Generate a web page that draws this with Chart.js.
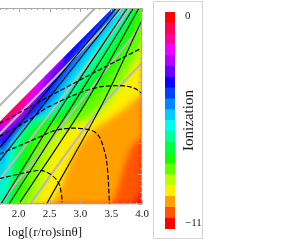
<!DOCTYPE html>
<html>
<head>
<meta charset="utf-8">
<script src="https://cdn.jsdelivr.net/npm/chart.js@4.4.0/dist/chart.umd.min.js"></script>
<style>
  html,body{margin:0;padding:0;background:#fff;width:299px;height:241px;overflow:hidden;position:relative}
  #main{position:absolute;left:-70px;top:0;width:222px;height:241px}
  #cbox{position:absolute;left:153px;top:1px;width:48px;height:236px;border:1px solid #d4d4d4}
</style>
</head>
<body>
<div id="main"><canvas id="c1"></canvas></div>
<div id="cbox"><canvas id="c2"></canvas></div>
<script>
// axes
const X_MIN = 0.85, X_MAX = 4.0, Y_MIN = 0.5, Y_MAX = 3.71;
const X_TICKS = [1.0, 1.5, 2.0, 2.5, 3.0, 3.5, 4.0];
const X_TITLE = 'log[(r/ro)sinθ]';
const CB_TITLE = 'Ionization';
const CB_TICK_LABELS = ['0', '\u221211'];
const CB_TICK_POS = [-0.2, -10.7];

// colour levels (ionization) and band colours, bottom (-11) to top (0)
const LEVELS = [-11, -10.45, -9.9, -9.35, -8.8, -8.25, -7.7, -7.15, -6.6, -6.05, -5.5,
                -4.95, -4.4, -3.85, -3.3, -2.75, -2.2, -1.65, -1.1, -0.55, 0];
const BAND_COLORS = ['#ff0000','#ff5500','#ffa000','#ffee00','#bbff00','#66ff00','#11ff00',
                     '#00ff44','#00ff99','#00ffe6','#00ccff','#0088ff','#0040ff','#1400ff',
                     '#6a00ff','#b400ff','#ee00ff','#ff0099','#ff0055','#ff0000'];

// isolines: ISOLINES[i-1] is where the field crosses LEVELS[i]
const ISOLINES = [
  [[1.69,0.50],[3.84,0.50],[4.00,0.69]],
  [[1.69,0.50],[3.47,0.50],[3.82,1.42],[4.00,1.58]],
  [[1.69,0.50],[2.50,0.50],[2.95,1.42],[3.71,2.06],[4.00,2.31]],
  [[1.69,0.50],[2.26,0.50],[2.58,1.42],[3.42,2.06],[4.00,2.95]],
  [[1.69,0.50],[2.10,0.50],[2.42,1.42],[3.26,2.06],[3.84,2.87],[4.00,3.19]],
  [[1.69,0.50],[1.94,0.50],[2.23,1.42],[2.98,2.06],[3.63,2.87],[3.95,3.52],[4.00,3.71]],
  [[1.69,0.50],[1.86,0.50],[2.10,1.42],[2.82,2.06],[3.47,2.87],[3.82,3.52],[3.92,3.71]],
  [[1.69,0.50],[1.77,0.50],[1.98,1.42],[2.66,2.06],[3.31,2.87],[3.74,3.52],[3.84,3.71]],
  [[1.69,0.50],[1.73,0.50],[1.90,1.42],[2.58,2.06],[3.19,2.87],[3.66,3.52],[3.76,3.71]],
  [[1.69,0.53],[1.84,1.42],[2.50,2.06],[3.10,2.87],[3.56,3.52],[3.68,3.71]],
  [[1.69,0.94],[1.77,1.42],[2.40,2.06],[2.98,2.87],[3.48,3.52],[3.61,3.71]],
  [[1.69,1.18],[1.73,1.42],[2.34,2.06],[2.89,2.87],[3.42,3.52],[3.56,3.71]],
  [[1.69,1.39],[2.26,2.06],[2.82,2.87],[3.36,3.52],[3.53,3.71]],
  [[1.69,1.50],[2.19,2.06],[2.76,2.87]],
  [[1.69,1.61],[2.15,2.06],[2.73,2.87]],
  [[1.69,1.69],[2.10,2.06],[2.42,2.52]],
  [[1.69,1.77],[2.03,2.06],[2.26,2.39]],
  [[1.69,1.82],[1.98,2.06],[2.10,2.26]]
];

// edge of the computed region (white above it)
const EDGE = [[1.69,1.85],[3.52,3.71]];

// contour lines
const BLACK_LINES = [
  [[1.69,1.42],[2.29,2.15],[3.58,3.71]],
  [[1.69,1.21],[2.42,2.15],[3.65,3.71]],
  [[1.71,0.50],[2.73,2.15],[3.76,3.71]],
  [[1.84,0.50],[2.89,2.15],[3.86,3.71]],
  [[2.00,0.50],[3.08,2.15],[3.95,3.71]],
  [[2.45,0.50],[3.36,2.15],[4.00,3.52]]
];
const GRAY_LINES = [
  [[1.69,2.11],[3.24,3.71]],
  [[1.69,1.65],[2.18,2.15],[3.69,3.71]],
  [[1.69,0.90],[2.63,2.15],[3.81,3.71]],
  [[1.69,0.50],[2.98,2.15],[4.00,3.44]],
  [[2.18,0.50],[3.31,2.06],[4.00,2.82]]
];
const DASHED_LINES = [
  [[1.69,1.82],[2.82,2.44],[4.00,3.06]],
  [[1.69,1.61],[2.10,1.84],[2.50,2.10],[3.19,2.39],[3.63,2.44],[3.87,2.40],[4.00,2.31]],
  [[1.69,1.32],[2.23,1.55],[2.61,1.71],[2.98,1.74],[3.26,1.66],[3.39,1.37],[3.44,1.06],[3.47,0.50]],
  [[1.69,0.92],[2.18,1.03],[2.37,1.05],[2.53,0.98],[2.65,0.84],[2.69,0.68],[2.71,0.50]]
];

const pts = a => a.map(([x,y]) => ({x, y}));
const SERIF = 'Liberation Serif';
const NONE = 'rgba(0,0,0,0)';
const INK = '#1a1a1a';

const datasets = [];
// contour lines on top
BLACK_LINES.forEach(l => datasets.push({data:pts(l), borderColor:'#000', borderWidth:1.1, tension:0.3, order:0}));
DASHED_LINES.forEach(l => datasets.push({data:pts(l), borderColor:'#000', borderWidth:1.2, borderDash:[4,3], tension:0.35, order:0}));
GRAY_LINES.forEach(l => datasets.push({data:pts(l), borderColor:'#b8b8b8', borderWidth:2.2, tension:0.3, order:0}));
// white outside the computed region
datasets.push({data:pts(EDGE), borderColor:NONE, backgroundColor:'#fff', fill:'end', order:1});
// colour bands, painted from the lowest level up
ISOLINES.forEach((l,i) => datasets.push({
  data:pts(l), borderColor:NONE, backgroundColor:BAND_COLORS[i+1],
  fill:'end', cubicInterpolationMode:'monotone', order:100-i,
  role: i === ISOLINES.length-1 ? 'top' : 'band'
}));
datasets.push({data:pts([[X_MIN,Y_MIN],[X_MAX,Y_MIN]]), borderColor:NONE,
  backgroundColor:BAND_COLORS[0], fill:'end', order:200, role:'base'});

// the field in the picture is smoothly shaded: soften the band edges
const soften = {
  id:'soften',
  afterDatasetDraw(chart, args){
    const role = chart.data.datasets[args.index].role;
    if (role === 'base') chart.ctx.filter = 'blur(3px)';
    if (role === 'top') chart.ctx.filter = 'none';
  }
};

const frame = {
  id:'frame',
  afterDatasetsDraw(chart){
    const {ctx, chartArea:a, scales:{x, y}} = chart;
    ctx.save();
    ctx.filter = 'none';
    ctx.strokeStyle = '#a8a8a8'; ctx.lineWidth = 1;
    ctx.strokeRect(a.left+0.5, a.top+0.5, a.right-a.left-1, a.bottom-a.top-1);
    ctx.beginPath();
    for (let v = Math.ceil(X_MIN*10); v <= X_MAX*10; v++){
      const px = Math.round(x.getPixelForValue(v/10)) + 0.5, len = v%5===0 ? 4 : 2;
      ctx.moveTo(px, a.top); ctx.lineTo(px, a.top+len);
      ctx.moveTo(px, a.bottom); ctx.lineTo(px, a.bottom-len);
    }
    for (let v = Math.ceil(Y_MIN*10); v <= Y_MAX*10; v++){
      const py = Math.round(y.getPixelForValue(v/10)) + 0.5, len = v%5===0 ? 4 : 2;
      ctx.moveTo(a.right, py); ctx.lineTo(a.right-len, py);
    }
    ctx.stroke();
    ctx.restore();
  }
};

new Chart(document.getElementById('c1'), {
  type:'line',
  data:{datasets},
  options:{
    responsive:true, maintainAspectRatio:false, animation:false, events:[],
    layout:{padding:{left:17.7, right:9, top:8, bottom:0}},
    elements:{point:{radius:0}, line:{borderCapStyle:'round', borderJoinStyle:'round'}},
    plugins:{legend:{display:false}, tooltip:{enabled:false}},
    scales:{
      x:{type:'linear', min:X_MIN, max:X_MAX,
         grid:{display:false, drawTicks:false}, border:{display:false},
         afterBuildTicks:s => { s.ticks = X_TICKS.map(v => ({value:v})); },
         ticks:{padding:3, maxRotation:0, autoSkip:false, color:INK,
                font:{family:SERIF, size:11}, callback:v => v.toFixed(1)},
         title:{display:true, text:X_TITLE, color:INK, font:{family:SERIF, size:13},
                padding:{top:1, bottom:1}}},
      y:{type:'linear', display:false, min:Y_MIN, max:Y_MAX}
    }
  },
  plugins:[soften, frame]
});

// colour bar
const cbTitle = {
  id:'cbTitle',
  afterDraw(chart){
    const {ctx, chartArea:a} = chart;
    ctx.save();
    ctx.translate(a.right+18, (a.top+a.bottom)/2);
    ctx.rotate(-Math.PI/2);
    ctx.font = '15px "' + SERIF + '"';
    ctx.fillStyle = INK; ctx.textAlign = 'center'; ctx.textBaseline = 'alphabetic';
    ctx.fillText(CB_TITLE, 0, 0);
    ctx.restore();
  }
};

new Chart(document.getElementById('c2'), {
  type:'bar',
  data:{labels:[''], datasets:BAND_COLORS.map((c,i) => ({
    data:[[LEVELS[i], LEVELS[i+1]]], backgroundColor:c, borderWidth:0,
    barPercentage:1, categoryPercentage:1, grouped:false
  }))},
  options:{
    responsive:true, maintainAspectRatio:false, animation:false, events:[],
    layout:{padding:{left:11, top:10, bottom:9, right:0}},
    plugins:{legend:{display:false}, tooltip:{enabled:false}},
    scales:{
      x:{display:false, stacked:true},
      y:{position:'right', min:-11, max:0, grid:{display:false}, border:{display:false},
         afterBuildTicks:s => { s.ticks = CB_TICK_POS.map(v => ({value:v})); },
         afterFit:s => { s.width = 27; },
         ticks:{padding:2, color:INK, font:{family:SERIF, size:11},
                callback:(v,i) => CB_TICK_LABELS[i]}}
    }
  },
  plugins:[cbTitle]
});
</script>
</body>
</html>
